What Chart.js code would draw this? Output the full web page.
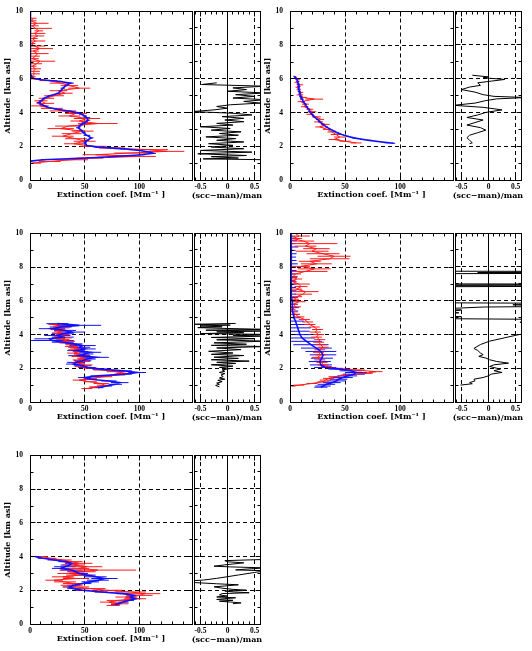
<!DOCTYPE html>
<html>
<head>
<meta charset="utf-8">
<script src="https://cdn.jsdelivr.net/npm/chart.js@4.4.0/dist/chart.umd.min.js"></script>
<style>
  html, body { margin: 0; padding: 0; background: #fff; }
  body { width: 532px; height: 651px; position: relative; overflow: hidden; }
  canvas { position: absolute; }
</style>
</head>
<body>
<script>
// ---- axis ranges / tick labels ----
const EXT_MIN = 0, EXT_MAX = 148;
const EXT_TICKS = [0, 50, 100];
const RAT_MIN = -0.62, RAT_MAX = 0.6;
const RAT_TICKS = [-0.5, 0, 0.5];
const ALT_MIN = 0, ALT_MAX = 10;
const ALT_TICKS = [0, 2, 4, 6, 8, 10];
const X_TITLE = 'Extinction coef. [Mm⁻¹ ]';
const Y_TITLE = 'Altitude [km asl]';
const SIDE_TITLE = '(scc−man)/man';

// ---- panel 1 ----
const p1RedAlt = [9.6, 9.45, 9.3, 9.15, 9.0, 8.85, 8.7, 8.55, 8.4, 8.25, 8.1, 7.95, 7.8, 7.65, 7.5, 7.35, 7.2, 7.05, 6.9, 6.75, 6.6, 6.45, 6.3, 6.15, 6.0,
  5.9, 5.75, 5.6, 5.45, 5.3, 5.15, 5.0, 4.85, 4.7, 4.55, 4.4, 4.25, 4.1, 3.95, 3.8, 3.65, 3.5, 3.35, 3.2, 3.05, 2.9, 2.75, 2.6, 2.45, 2.3, 2.15, 2.0,
  1.9, 1.8, 1.7, 1.6, 1.5, 1.4, 1.3, 1.2, 1.1, 1.0];
const p1Red = [3, 1, 6, 2, 5, 8, 4, 7, 2, 5, 1, 4, 9, 3, 7, 5, 2, 9, 6, 2, 5, 3, 4, 2, 4,
  17, 28, 36, 45, 26, 32, 22, 15, 10, 14, 9, 20, 30, 42, 36, 52, 45, 62, 35, 28, 48, 38, 30, 42, 50, 40, 58,
  75, 108, 125, 92, 60, 100, 55, 38, 18, 2];
const p1RedErr = [3, 5, 11, 6, 15, 4, 10, 6, 5, 9, 4, 10, 12, 5, 10, 4, 6, 14, 5, 4, 5, 6, 5, 3, 4,
  8, 10, 8, 10, 8, 7, 9, 7, 6, 8, 8, 10, 12, 10, 10, 12, 8, 18, 12, 12, 10, 9, 10, 10, 10, 9, 12,
  12, 18, 16, 15, 12, 15, 12, 15, 10, 8];
const p1BlueAlt = [10, 9, 8, 7, 6.3, 6.05, 5.95, 5.85, 5.75, 5.6, 5.45, 5.3, 5.15, 5.0, 4.85, 4.7, 4.6, 4.5, 4.4, 4.3, 4.2, 4.1, 4.0, 3.9, 3.8,
  3.7, 3.55, 3.4, 3.25, 3.1, 2.95, 2.8, 2.65, 2.5, 2.35, 2.2, 2.05, 1.95, 1.85, 1.75, 1.65, 1.58, 1.5, 1.42, 1.35, 1.28, 1.2, 1.12];
const p1Blue = [0.3, 0.3, 0.4, 0.5, 0.5, 2, 10, 28, 37, 33, 30, 28, 26, 18, 13, 10, 8, 10, 13, 17, 25, 35, 43, 47, 50,
  52, 53, 50, 46, 44, 47, 49, 52, 56, 52, 50, 52, 62, 85, 100, 110, 112, 102, 85, 65, 40, 12, 0.5];
const p1BlueErr = [0.5, 0.5, 0.5, 0.5, 0.5, 1, 2, 2, 3, 2, 2, 2, 2, 2, 2, 2, 2, 2, 2, 2, 2, 3, 3, 2, 2,
  3, 2, 3, 2, 2, 2, 2, 3, 2, 2, 2, 2, 3, 3, 3, 3, 3, 3, 3, 3, 3, 2, 1];
const p1RatioAlt = [5.75, 5.65, 5.55, 5.45, 5.35, 5.25, 5.15, 5.05, 4.95, 4.85, 4.75, 4.65, 4.55, 4.45, 4.35, 4.25, 4.15, 4.05, 3.95, 3.85,
  3.75, 3.65, 3.55, 3.45, 3.35, 3.25, 3.15, 3.05, 2.95, 2.85, 2.75, 2.65, 2.55, 2.45, 2.35, 2.25, 2.15, 2.05, 1.95, 1.85,
  1.75, 1.65, 1.55, 1.45, 1.38, 1.3, 1.25, 1.2];
const p1Ratio = [-0.2, -0.48, 0.7, 0.1, 0.35, 0.0, 0.7, 0.15, 0.5, 0.1, 0.7, 0.3, 0.6, 0.05, -0.2, 0.0, -0.25, -0.65, 0.1, 0.45,
  -0.1, 0.3, -0.05, 0.3, -0.2, 0.1, -0.5, 0.05, -0.3, 0.25, -0.15, 0.2, -0.4, 0.15, -0.2, 0.3, -0.35, 0.1, -0.3, 0.3,
  -0.5, 0.45, -0.55, 0.35, -0.3, 0.2, -0.45, 0.7];

// ---- panel 2 ----
const p2RedAlt = [6.1, 5.95, 5.8, 5.65, 5.5, 5.35, 5.2, 5.05, 4.9, 4.8, 4.65, 4.5, 4.35, 4.2, 4.05, 3.9, 3.75, 3.6, 3.45, 3.3, 3.15, 3.0, 2.85, 2.7, 2.55, 2.4, 2.3, 2.2];
const p2Red = [5, 7, 6, 9, 7, 8, 10, 9, 12, 22, 10, 14, 13, 18, 20, 18, 24, 28, 26, 32, 27, 34, 38, 42, 45, 40, 50, 60];
const p2RedErr = [1.5, 2, 2, 3, 2, 2, 2, 3, 3, 8, 3, 3, 3, 3, 4, 3, 4, 3, 4, 4, 4, 4, 4, 5, 5, 5, 5, 5];
const p2BlueAlt = [6.15, 6.0, 5.85, 5.7, 5.55, 5.4, 5.25, 5.1, 4.95, 4.8, 4.65, 4.5, 4.35, 4.2, 4.05, 3.9, 3.75, 3.6, 3.45, 3.3, 3.15, 3.0, 2.9, 2.8, 2.7, 2.6, 2.5, 2.42, 2.35, 2.28, 2.22, 2.18];
const p2Blue = [4, 6, 7, 7.5, 8, 8, 8.5, 9, 10, 11, 12, 14, 15, 17, 18, 20, 22, 25, 27, 30, 33, 37, 40, 43, 47, 52, 58, 65, 72, 80, 88, 94];
const p2BlueErr = [1, 1.5, 1.5, 1.5, 1.5, 1.5, 1.5, 1.5, 1.5, 1.5, 1.5, 1.5, 1.5, 1.5, 1.5, 1.5, 1.5, 1.5, 1.5, 1.5, 1.5, 1.5, 1.5, 1.5, 1.5, 1.5, 1.5, 1.5, 1.5, 1.5, 1.5, 1.5];
const p2RatioAlt = [6.2, 6.1, 6.05, 5.95, 5.85, 5.75, 5.6, 5.5, 5.35, 5.2, 5.05, 4.95, 4.88, 4.8, 4.7, 4.55, 4.42, 4.3, 4.15, 4.0, 3.85, 3.7, 3.55, 3.4, 3.25, 3.1, 2.95, 2.8, 2.65, 2.5, 2.35, 2.2, 2.15];
const p2Ratio = [-0.3, 0.0, -0.1, 0.3, 0.05, -0.2, -0.15, -0.35, -0.5, -0.25, -0.1, 0.1, 0.7, 0.15, -0.05, -0.25, -0.65, -0.1, 0.25, -0.05, -0.2, -0.4, -0.1, -0.25, -0.4, -0.15, -0.05, -0.2, -0.35, -0.4, -0.35, -0.3, -0.35];

// ---- panel 3 ----
const p3RedAlt = [4.6, 4.5, 4.4, 4.3, 4.2, 4.1, 4.0, 3.9, 3.8, 3.7, 3.6, 3.5, 3.4, 3.3, 3.2, 3.1, 3.0, 2.9, 2.8, 2.7, 2.6, 2.5, 2.4, 2.3, 2.2, 2.1, 2.0, 1.9, 1.8, 1.7, 1.6, 1.5, 1.4, 1.3, 1.2, 1.1, 1.0, 0.9, 0.8];
const p3Red = [22, 26, 30, 24, 28, 25, 30, 27, 32, 30, 35, 33, 40, 38, 44, 42, 46, 40, 47, 44, 50, 45, 48, 44, 50, 47, 55, 65, 78, 87, 80, 68, 55, 45, 55, 65, 68, 60, 52];
const p3RedErr = [5, 5, 6, 5, 6, 5, 6, 5, 6, 6, 6, 6, 7, 6, 7, 7, 7, 6, 7, 6, 7, 6, 7, 6, 7, 6, 6, 7, 8, 8, 7, 7, 6, 6, 6, 7, 7, 6, 5];
const p3BlueAlt = [4.65, 4.55, 4.45, 4.35, 4.25, 4.15, 4.05, 3.95, 3.85, 3.75, 3.65, 3.55, 3.45, 3.35, 3.25, 3.15, 3.05, 2.95, 2.85, 2.75, 2.65, 2.55, 2.45, 2.35, 2.25, 2.15, 2.05, 1.95, 1.85, 1.75, 1.65, 1.55, 1.45, 1.35, 1.25, 1.15, 1.05, 0.95, 0.85];
const p3Blue = [25, 45, 28, 20, 32, 38, 30, 25, 30, 18, 20, 30, 40, 48, 45, 50, 42, 55, 50, 45, 60, 52, 48, 42, 40, 48, 52, 65, 85, 98, 85, 62, 50, 55, 72, 82, 78, 70, 62];
const p3BlueErr = [10, 20, 10, 12, 10, 12, 10, 12, 10, 14, 20, 10, 8, 12, 10, 10, 8, 10, 8, 10, 12, 8, 8, 8, 7, 8, 8, 8, 8, 8, 8, 7, 6, 6, 7, 8, 6, 5, 5];
const p3RatioAlt = [4.65, 4.6, 4.55, 4.5, 4.45, 4.4, 4.35, 4.3, 4.25, 4.2, 4.15, 4.1, 4.05, 4.0, 3.95, 3.9, 3.82, 3.75, 3.68, 3.6,
  3.5, 3.42, 3.35, 3.28, 3.2, 3.1, 3.0, 2.9, 2.82, 2.75, 2.65, 2.58, 2.5, 2.42, 2.35, 2.28, 2.2, 2.12, 2.05, 1.98,
  1.9, 1.82, 1.75, 1.68, 1.6, 1.5, 1.42, 1.35, 1.28, 1.2, 1.12, 1.05, 0.98, 0.9];
const p3Ratio = [0.15, -0.6, 0.05, -0.5, -0.1, -0.55, 0.0, 0.7, -0.4, 0.7, -0.2, 0.3, -0.5, 0.7, 0.1, 0.7, -0.3, 0.5, -0.2, 0.7,
  -0.25, 0.35, -0.3, 0.7, -0.2, 0.25, -0.35, 0.1, -0.3, 0.3, -0.25, 0.2, -0.3, 0.4, -0.2, 0.15, -0.3, 0.1, -0.15, 0.05,
  -0.1, -0.05, -0.15, -0.05, -0.12, -0.08, -0.15, -0.05, -0.18, -0.1, -0.2, -0.15, -0.22, -0.15];

// ---- panel 4 ----
const p4RedAlt = [10.0, 9.85, 9.7, 9.55, 9.4, 9.25, 9.1, 8.95, 8.8, 8.65, 8.5, 8.35, 8.2, 8.05, 7.9, 7.75, 7.6, 7.45, 7.3, 7.15,
  7.0, 6.85, 6.7, 6.55, 6.4, 6.25, 6.1, 5.95, 5.8, 5.65, 5.5, 5.35, 5.2, 5.05, 4.9, 4.75, 4.6, 4.45, 4.3, 4.15,
  4.0, 3.85, 3.7, 3.55, 3.4, 3.25, 3.1, 2.95, 2.8, 2.65, 2.5, 2.35, 2.2, 2.1, 2.0, 1.9, 1.8, 1.7, 1.6, 1.5,
  1.4, 1.3, 1.2, 1.1, 1.0, 0.95];
const p4Red = [5, 8, 3, 12, 18, 14, 24, 20, 30, 40, 36, 18, 24, 10, 22, 14, 5, 3, 6, 2,
  8, 10, 6, 14, 12, 6, 4, 8, 3, 5, 2, 3, 5, 8, 13, 16, 18, 22, 25, 23,
  26, 24, 27, 26, 28, 30, 27, 26, 28, 25, 27, 29, 30, 33, 42, 60, 78, 68, 52, 40,
  35, 32, 30, 20, 8, 2];
const p4RedErr = [15, 10, 8, 10, 25, 10, 12, 15, 15, 15, 18, 10, 14, 8, 15, 20, 5, 4, 5, 4,
  10, 6, 5, 12, 8, 5, 4, 6, 4, 5, 3, 4, 4, 5, 5, 5, 5, 5, 5, 5,
  5, 5, 5, 5, 5, 5, 5, 5, 5, 5, 5, 5, 5, 5, 6, 8, 6, 7, 6, 5,
  5, 5, 5, 5, 5, 3];
const p4BlueAlt = [10.0, 9.8, 9.6, 9.4, 9.2, 9.0, 8.8, 8.6, 8.4, 8.2, 8.0, 7.8, 7.6, 7.4, 7.2, 7.0, 6.8, 6.6, 6.4, 6.2,
  6.0, 5.8, 5.6, 5.4, 5.2, 5.0, 4.8, 4.6, 4.4, 4.2, 4.0, 3.8, 3.6, 3.4, 3.2, 3.0, 2.8, 2.6, 2.4, 2.2,
  2.05, 1.95, 1.85, 1.75, 1.65, 1.55, 1.45, 1.35, 1.25, 1.15, 1.05, 0.95, 0.88];
const p4Blue = [1, 1, 1.5, 1, 1.5, 1, 1, 1.5, 1, 1, 1.5, 1, 1, 1.5, 1, 1, 1.5, 1, 1.5, 1,
  2, 2, 2, 2.5, 3, 3.5, 5, 6, 7, 8, 9, 11, 15, 19, 24, 28, 30, 29, 27, 28,
  32, 45, 55, 60, 58, 52, 48, 44, 42, 38, 33, 30, 28];
const p4BlueErr = [5, 4, 5, 4, 6, 4, 5, 4, 5, 6, 4, 5, 4, 5, 4, 5, 4, 5, 4, 6,
  5, 5, 6, 5, 6, 6, 8, 10, 12, 10, 10, 12, 14, 16, 14, 14, 12, 10, 10, 10,
  10, 10, 10, 10, 10, 9, 9, 8, 8, 8, 8, 7, 6];
const p4RatioAlt = [7.75, 7.72, 7.66, 7.62, 7.58, 7.55, 7.0, 6.97, 6.9, 6.86, 6.8, 6.78, 5.9, 5.85, 5.8, 5.75, 5.7, 5.62, 5.55, 5.5,
  5.45, 5.4, 5.35, 5.28, 5.2, 5.12, 5.05, 4.98, 4.9, 4.8, 4.72, 4.6, 4.1, 4.0, 3.8, 3.6, 3.4, 3.17, 3.05, 2.9,
  2.8, 2.7, 2.6, 2.5, 2.4, 2.3, 2.2, 2.1, 2.0, 1.95, 1.85, 1.75, 1.65, 1.55, 1.45, 1.35, 1.25, 1.15, 1.08, 1.0];
const p4Ratio = [-3, 3, -0.2, 3, -3, -3, -3, 3, -3, 3, -3, -3, -3, 0.6, 3, 0.45, 3, -0.1, -0.6, -3,
  -0.5, -0.6, -3, -0.55, -3, -3, -0.5, -3, 0.55, 3, 0.58, 3, 3, 0.58, 0.3, 0.02, -0.15, -0.27, -0.2, -0.15,
  -0.1, -0.18, -0.05, 0.02, 0.15, 0.37, 0.1, 0.02, 0.15, 0.22, 0.1, 0.25, 0.05, 0.0, -0.1, -0.27, -0.25, -0.35, -0.3, -0.52];

// ---- panel 5 ----
const p5RedAlt = [4.0, 3.9, 3.8, 3.7, 3.6, 3.5, 3.4, 3.3, 3.2, 3.1, 3.0, 2.9, 2.8, 2.7, 2.6, 2.5, 2.4, 2.3, 2.2, 2.1, 2.0, 1.9, 1.8, 1.7, 1.6, 1.5, 1.4, 1.3, 1.2, 1.1];
const p5Red = [12, 18, 30, 38, 45, 40, 52, 44, 62, 48, 35, 45, 30, 42, 22, 32, 40, 38, 42, 55, 70, 92, 105, 100, 88, 96, 80, 72, 82, 76];
const p5RedErr = [4, 6, 8, 10, 12, 10, 14, 10, 35, 12, 10, 12, 10, 12, 8, 10, 10, 10, 12, 14, 14, 14, 14, 12, 10, 10, 10, 8, 8, 6];
const p5BlueAlt = [4.0, 3.9, 3.8, 3.7, 3.6, 3.5, 3.4, 3.3, 3.2, 3.1, 3.0, 2.9, 2.8, 2.7, 2.6, 2.5, 2.4, 2.3, 2.2, 2.1, 2.0, 1.9, 1.8, 1.7, 1.6, 1.5, 1.4, 1.3, 1.2, 1.15];
const p5Blue = [5, 12, 22, 32, 38, 36, 32, 28, 38, 42, 45, 52, 60, 68, 62, 55, 48, 40, 36, 40, 48, 65, 85, 95, 92, 96, 90, 85, 80, 78];
const p5BlueErr = [3, 5, 6, 6, 6, 8, 10, 8, 10, 8, 8, 8, 10, 12, 10, 8, 8, 6, 6, 6, 6, 6, 6, 5, 5, 5, 5, 5, 4, 4];
const p5RatioAlt = [3.82, 3.75, 3.68, 3.62, 3.55, 3.5, 3.42, 3.38, 3.32, 3.25, 3.2, 3.15, 3.05, 2.9, 2.8, 2.7, 2.6, 2.55, 2.45, 2.38, 2.32,
  2.25, 2.2, 2.12, 2.05, 2.0, 1.95, 1.9, 1.85, 1.8, 1.72, 1.65, 1.6, 1.55, 1.5, 1.45, 1.4, 1.35, 1.3, 1.25, 1.2];
const p5Ratio = [0.7, -0.05, 0.0, 0.3, 0.1, -0.05, -0.25, 0.05, 0.7, 0.35, 0.15, 0.7, 0.5, 0.2, 0.0, -0.2, -0.45, -0.7, -0.6, -0.2, 0.2,
  -0.05, -0.25, -0.1, 0.1, 0.35, -0.05, 0.1, 0.4, -0.1, -0.15, 0.0, -0.2, 0.15, -0.05, -0.2, 0.1, -0.15, 0.05, 0.25, 0.1];

// ---- layout of the 5 panel pairs (pixel frame of each plot box) ----
const COLS = [
  { mainL: 30, mainR: 192, sideL: 194, sideR: 260 },
  { mainL: 290, mainR: 453, sideL: 455, sideR: 521 }
];
const ROW_TOP = [11, 233, 455];
const PLOT_H = 169;
const AXIS_H = 24;

const RED = '#ff1a1a';
const BLUE = '#1010ff';
const tickFont = { family: 'Liberation Serif', size: 7.5, weight: 'bold' };
const titleFont = { family: 'DejaVu Serif', size: 8, weight: 'bold' };

function pts(alt, val) {
  return alt.map((a, i) => ({ x: val[i], y: a }));
}
function bars(alt, val, err) {
  const out = [];
  alt.forEach((a, i) => {
    out.push({ x: val[i] - err[i], y: a }, { x: val[i] + err[i], y: a }, { x: null, y: null });
  });
  return out;
}
function lineSet(data, color, width) {
  return { data, showLine: true, borderColor: color, borderWidth: width, pointRadius: 0, fill: false, spanGaps: false, tension: 0 };
}
const fixedTicks = values => scale => { scale.ticks = values.map(v => ({ value: v })); };

// hide grid lines that would sit on the frame (and on the solid zero line)
function gridColor(ctx) {
  const s = ctx.scale, v = ctx.tick ? ctx.tick.value : NaN;
  if (Math.abs(v - s.min) < 1e-9 || Math.abs(v - s.max) < 1e-9) return 'rgba(0,0,0,0)';
  if (s.axis === 'x' && s.min < 0 && Math.abs(v) < 1e-9) return 'rgba(0,0,0,0)';
  return '#000';
}

// frame, inward tick marks, zero line, side title
const framePlugin = {
  id: 'frame',
  afterDatasetsDraw(chart, args, o) {
    const { ctx, chartArea: a } = chart;
    const x = chart.scales.x, y = chart.scales.y;
    const al = p => Math.round(p - 0.5) + 0.5;
    const seg = (x1, y1, x2, y2) => { ctx.beginPath(); ctx.moveTo(x1, y1); ctx.lineTo(x2, y2); ctx.stroke(); };
    const steps = (min, max, step) => {
      const out = [];
      for (let k = Math.ceil(min / step - 1e-9); k * step <= max + 1e-9; k++) out.push(k * step);
      return out;
    };
    const major = (v, m) => Math.abs(v / m - Math.round(v / m)) < 1e-6;
    const L = al(a.left), R = al(a.right), T = al(a.top), B = al(a.bottom);

    ctx.save();
    ctx.strokeStyle = '#000';
    ctx.lineWidth = 1;
    ctx.setLineDash([]);
    if (o.zero) {
      const px = al(x.getPixelForValue(0));
      seg(px, T, px, B);
    }
    steps(x.min, x.max, o.xMinor).forEach(v => {
      const px = al(x.getPixelForValue(v));
      const len = major(v, o.xMajor) ? 5 : 3;
      seg(px, B, px, B - len);
      seg(px, T, px, T + len);
    });
    steps(y.min, y.max, o.yMinor).forEach(v => {
      const py = al(y.getPixelForValue(v));
      const len = major(v, o.yMajor) ? 5 : 3;
      seg(L, py, L + len, py);
      seg(R, py, R - len, py);
    });
    ctx.strokeRect(L, T, R - L, B - T);
    if (o.title) {
      ctx.fillStyle = '#000';
      ctx.font = 'bold 8px "DejaVu Serif"';
      ctx.textAlign = 'center';
      ctx.textBaseline = 'middle';
      ctx.fillText(o.title, (a.left + a.right) / 2, a.bottom + 15.5);
    }
    ctx.restore();
  }
};

function addCanvas(left, top, w, h) {
  const cv = document.createElement('canvas');
  cv.width = w;
  cv.height = h;
  cv.style.left = left + 'px';
  cv.style.top = top + 'px';
  cv.style.width = w + 'px';
  cv.style.height = h + 'px';
  document.body.appendChild(cv);
  return cv;
}

function yScale(showLabels) {
  return {
    type: 'linear', min: ALT_MIN, max: ALT_MAX,
    afterBuildTicks: fixedTicks(ALT_TICKS),
    afterFit: s => { s.width = showLabels ? 30 : 0; },
    ticks: { display: showLabels, font: tickFont, color: '#000', padding: 7 },
    grid: { drawTicks: false, color: gridColor, lineWidth: 1 },
    border: { display: false, dash: [4, 3] },
    title: { display: showLabels, text: Y_TITLE, font: titleFont, color: '#000', padding: { top: 3, bottom: 0 } }
  };
}

function xScale(min, max, ticks) {
  return {
    type: 'linear', min, max,
    afterBuildTicks: fixedTicks(ticks),
    afterFit: s => { s.height = AXIS_H; },
    ticks: { font: tickFont, color: '#000', padding: 3, maxRotation: 0, autoSkip: false },
    grid: { drawTicks: false, color: gridColor, lineWidth: 1 },
    border: { display: false, dash: [4, 3] },
    title: { display: false }
  };
}

function mainChart(col, row, red, redBars, blue, blueBars) {
  const c = COLS[col], top = ROW_TOP[row];
  const w = 30 + (c.mainR - c.mainL) + 4;
  const cv = addCanvas(c.mainL - 30, top - 11, w, 11 + PLOT_H + AXIS_H);
  const datasets = [lineSet(blue, BLUE, 1.6), lineSet(red, RED, 1), lineSet(redBars, RED, 1), lineSet(blueBars, BLUE, 1)];
  const x = xScale(EXT_MIN, EXT_MAX, EXT_TICKS);
  x.title = { display: true, text: X_TITLE, font: titleFont, color: '#000', padding: { top: 0, bottom: 4 } };
  new Chart(cv, {
    type: 'scatter',
    data: { datasets },
    options: {
      responsive: false, animation: false, events: [],
      layout: { padding: { left: 0, top: 11, right: 4, bottom: 0 } },
      plugins: { legend: { display: false }, tooltip: { enabled: false },
        frame: { xMinor: 10, xMajor: 50, yMinor: 1, yMajor: 2 } },
      scales: { x, y: yScale(true) }
    },
    plugins: [framePlugin]
  });
}

function sideChart(col, row, ratio) {
  const c = COLS[col], top = ROW_TOP[row];
  const cv = addCanvas(c.sideL - 10, top - 11, 10 + (c.sideR - c.sideL) + 10, 11 + PLOT_H + AXIS_H);
  new Chart(cv, {
    type: 'scatter',
    data: { datasets: [lineSet(ratio, '#000', 1)] },
    options: {
      responsive: false, animation: false, events: [],
      layout: { padding: { left: 10, top: 11, right: 10, bottom: 0 } },
      plugins: { legend: { display: false }, tooltip: { enabled: false },
        frame: { xMinor: 0.1, xMajor: 0.5, yMinor: 1, yMajor: 2, zero: true, title: SIDE_TITLE } },
      scales: { x: xScale(RAT_MIN, RAT_MAX, RAT_TICKS), y: yScale(false) }
    },
    plugins: [framePlugin]
  });
}

mainChart(0, 0, pts(p1RedAlt, p1Red), bars(p1RedAlt, p1Red, p1RedErr), pts(p1BlueAlt, p1Blue), bars(p1BlueAlt, p1Blue, p1BlueErr));
sideChart(0, 0, pts(p1RatioAlt, p1Ratio));
mainChart(1, 0, pts(p2RedAlt, p2Red), bars(p2RedAlt, p2Red, p2RedErr), pts(p2BlueAlt, p2Blue), bars(p2BlueAlt, p2Blue, p2BlueErr));
sideChart(1, 0, pts(p2RatioAlt, p2Ratio));
mainChart(0, 1, pts(p3RedAlt, p3Red), bars(p3RedAlt, p3Red, p3RedErr), pts(p3BlueAlt, p3Blue), bars(p3BlueAlt, p3Blue, p3BlueErr));
sideChart(0, 1, pts(p3RatioAlt, p3Ratio));
mainChart(1, 1, pts(p4RedAlt, p4Red), bars(p4RedAlt, p4Red, p4RedErr), pts(p4BlueAlt, p4Blue), bars(p4BlueAlt, p4Blue, p4BlueErr));
sideChart(1, 1, pts(p4RatioAlt, p4Ratio));
mainChart(0, 2, pts(p5RedAlt, p5Red), bars(p5RedAlt, p5Red, p5RedErr), pts(p5BlueAlt, p5Blue), bars(p5BlueAlt, p5Blue, p5BlueErr));
sideChart(0, 2, pts(p5RatioAlt, p5Ratio));
</script>
</body>
</html>
